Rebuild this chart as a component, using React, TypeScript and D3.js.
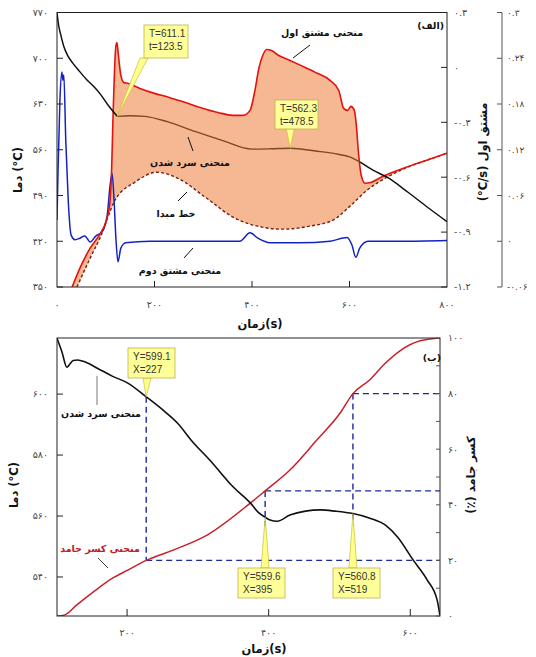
import React from "react";
import * as d3 from "d3";

// ---------- top chart (الف) data ----------
const coolTime = [0, 3, 8, 14, 22, 32, 45, 60, 75, 90, 105, 123.5, 150, 180, 226, 283, 340, 400, 440, 478.5, 530, 570, 600, 622, 650, 677, 720, 760, 800];
const coolTemp = [770, 752, 735, 718, 704, 693, 681, 668, 657, 644, 628, 611.1, 612, 611, 603, 588, 574, 561, 561.5, 562.3, 558, 554, 549, 541, 528, 518, 495, 472, 450];
const coolBrownFrom = 123.5;
const coolBrownTo = 622;

const d1Time = [31, 47, 68, 88, 100, 108, 112, 115, 118, 121, 123, 126, 131, 137, 145, 170, 200, 230, 262, 300, 330, 360, 382, 396, 406, 414, 422, 430, 440, 455, 478, 500, 530, 560, 578, 588, 596, 603, 610, 614, 618, 624, 632, 645, 665, 700, 740, 770, 800];
const d1Val = [-1.2, -1.097, -0.988, -0.911, -0.846, -0.753, -0.562, -0.262, -0.016, 0.12, 0.136, 0.065, -0.044, -0.082, -0.087, -0.115, -0.142, -0.164, -0.191, -0.224, -0.246, -0.262, -0.262, -0.235, -0.126, -0.006, 0.065, 0.098, 0.093, 0.065, 0.038, 0.011, -0.027, -0.071, -0.126, -0.224, -0.235, -0.213, -0.235, -0.317, -0.453, -0.589, -0.633, -0.627, -0.6, -0.562, -0.524, -0.497, -0.469];

const baseTime = [41, 68, 88, 119, 160, 205, 248, 304, 365, 421, 464, 519, 566, 601, 636, 677, 724, 771, 800];
const baseVal = [-1.2, -1.042, -0.933, -0.726, -0.627, -0.573, -0.606, -0.709, -0.824, -0.873, -0.884, -0.867, -0.835, -0.758, -0.671, -0.6, -0.54, -0.496, -0.469];

const d2Time = [0, 2, 6, 10, 12, 14, 18, 23, 29, 37, 47, 57, 68, 80, 92, 103, 109, 113, 117, 121, 125, 131, 141, 191, 293, 375, 396, 412, 437, 498, 560, 595, 605, 613, 621, 638, 704, 800];
const d2Val = [0.028, 0.089, 0.185, 0.222, 0.211, 0.218, 0.132, 0.054, 0.008, 0.002, 0.004, 0.007, -0.001, 0.007, 0.012, 0.034, 0.074, 0.089, 0.054, 0.002, -0.027, -0.009, -0.002, 0, 0, 0, 0.011, 0.004, -0.002, -0.002, 0, 0.005, -0.005, -0.021, -0.009, 0, 0, 0.001];

const topXTicks = [0, 200, 400, 600, 800];
const topTempTicks = [350, 420, 490, 560, 630, 700, 770];
const topD1Ticks = [0.3, 0, -0.3, -0.6, -0.9, -1.2];
const topD2Ticks = [0.3, 0.24, 0.18, 0.12, 0.06, 0, -0.06];

const topMarks = [
  { t: 123.5, T: 611.1 },
  { t: 478.5, T: 562.3 },
];

// ---------- bottom chart (ب) data ----------
const botTime = [101, 108, 115, 119, 124, 130, 141, 158, 179, 201, 227, 254, 271, 293, 317, 350, 374, 385, 395, 402, 412, 430, 452, 473, 494, 519, 543, 565, 582, 604, 624, 638, 642];
const botTemp = [618.3, 613.8, 608.8, 609.8, 611, 611.2, 610.5, 608.5, 605.9, 603.6, 599.1, 594.1, 590.5, 584.2, 578.3, 569.5, 564.3, 561.3, 559.6, 558.7, 558.3, 560.3, 561.6, 562, 561.6, 560.8, 559.3, 557, 553.1, 545.6, 539, 532.4, 527.2];

const fsTime = [101, 112, 129, 152, 180, 201, 227, 265, 313, 374, 395, 430, 468, 501, 519, 543, 565, 586, 614, 642];
const fsVal = [0, 0.4, 4, 8.6, 13.7, 16.5, 20, 23.7, 29.1, 40.6, 45, 52.5, 63.3, 73, 80, 85, 91, 95.5, 99, 100];

const botMarks = [
  { X: 227, Y: 599.1, fs: 20 },
  { X: 395, Y: 559.6, fs: 45 },
  { X: 519, Y: 560.8, fs: 80 },
];

const botXTicks = [200, 400, 600];
const botTempTicks = [540, 560, 580, 600];
const botFsTicks = [0, 20, 40, 60, 80, 100];
const botFsMinor = [0, 10, 20, 30, 40, 50, 60, 70, 80, 90, 100];

// ---------- helpers ----------
const toFa = (s: string) => s.replace(/[0-9]/g, (d) => "۰۱۲۳۴۵۶۷۸۹"[Number(d)]);
const zip = (a: number[], b: number[]) => a.map((v, i) => [v, b[i]] as [number, number]);

const FA = "'DejaVu Sans', sans-serif";
const LAT = "'Liberation Sans', Arial, sans-serif";
const tickColor = "#444";

function Callout({ ax, ay, bx, by, w, h, px, lines }: { ax: number; ay: number; bx: number; by: number; w: number; h: number; px: number; lines: string[] }) {
  const edgeY = ay > by ? by + h : by;
  return (
    <g>
      <polygon points={`${px - 4},${edgeY} ${px + 4},${edgeY} ${ax},${ay}`} fill="#ffff8c" stroke="#c9be3a" strokeWidth={0.7} />
      <rect x={bx} y={by} width={w} height={h} fill="#ffff99" stroke="#bdb24a" strokeWidth={0.8} />
      {lines.map((l, i) => (
        <text key={i} x={bx + 5} y={by + 12 + i * 13} fontSize={10} fontFamily={LAT} fill="#333">{l}</text>
      ))}
    </g>
  );
}

export default function App() {
  // ---- top scales
  const L1 = 57, R1 = 447, T1 = 12.5, B1 = 287;
  const tx = d3.scaleLinear().domain([0, 800]).range([L1, R1]);
  const tT = d3.scaleLinear().domain([350, 770]).range([B1, T1]);
  const tD1 = d3.scaleLinear().domain([-1.2, 0.3]).range([B1, T1]);
  const tD2 = d3.scaleLinear().domain([-0.06, 0.3]).range([B1, T1]);
  const outerX = 502;

  const pxLine = d3.line<[number, number]>().x((d) => d[0]).y((d) => d[1]).curve(d3.curveMonotoneX);

  const cool = zip(coolTime, coolTemp);
  const coolPx = (arr: [number, number][]) => arr.map((d) => [tx(d[0]), tT(d[1])] as [number, number]);
  const coolA = coolPx(cool.filter((d) => d[0] <= coolBrownFrom));
  const coolB = coolPx(cool.filter((d) => d[0] >= coolBrownFrom && d[0] <= coolBrownTo));
  const coolC = coolPx(cool.filter((d) => d[0] >= coolBrownTo));

  const redPx = zip(d1Time, d1Val).map((d) => [tx(d[0]), tD1(d[1])] as [number, number]);
  const basePx = zip(baseTime, baseVal).map((d) => [tx(d[0]), tD1(d[1])] as [number, number]);
  const bluePx = zip(d2Time, d2Val).map((d) => [tx(d[0]), tD2(d[1])] as [number, number]);
  const redPath = pxLine(redPx) || "";
  const baseRevPath = pxLine(basePx.slice().reverse()) || "";
  const fillPath = redPath + "L" + baseRevPath.slice(1) + "Z";

  // ---- bottom scales
  const L2 = 57, R2 = 440, T2 = 338, B2 = 616;
  const bx = d3.scaleLinear().domain([101, 642]).range([L2, R2]);
  const bT = d3.scaleLinear().domain([527.2, 618.4]).range([B2, T2]);
  const bF = d3.scaleLinear().domain([0, 100]).range([B2, T2]);
  const botCool = zip(botTime, botTemp).map((d) => [bx(d[0]), bT(d[1])] as [number, number]);
  const botFs = zip(fsTime, fsVal).map((d) => [bx(d[0]), bF(d[1])] as [number, number]);

  const boxW = 47, boxH = 30;
  const botBoxes = [
    { bx: 128, by: 348, px: 147 },
    { bx: 238, by: 568, px: 0 },
    { bx: 333, by: 568, px: 0 },
  ];

  const titleStyle = { fontFamily: FA, fontWeight: 700 as const, fontSize: 11.5, fill: "#111" };
  const labStyle = { fontFamily: FA, fontWeight: 700 as const, fontSize: 9.5, fill: "#111" };

  return (
    <svg width={536} height={657} style={{ position: "absolute", left: 0, top: 0, background: "#fff" }}>
      <defs>
        <clipPath id="clipTop"><rect x={L1} y={T1} width={R1 - L1} height={B1 - T1} /></clipPath>
        <clipPath id="clipBot"><rect x={L2} y={T2} width={R2 - L2} height={B2 - T2} /></clipPath>
      </defs>

      {/* ================= TOP CHART ================= */}
      <g clipPath="url(#clipTop)">
        <path d={fillPath} fill="#f6b892" stroke="none" />
        <path d={pxLine(basePx) || ""} fill="none" stroke="#7a1e12" strokeWidth={1.4} strokeDasharray="3,2.2" />
        <path d={pxLine(bluePx) || ""} fill="none" stroke="#1422c4" strokeWidth={1.5} />
        <path d={redPath} fill="none" stroke="#e3120f" strokeWidth={1.6} />
        <path d={pxLine(coolA) || ""} fill="none" stroke="#111" strokeWidth={1.5} />
        <path d={pxLine(coolB) || ""} fill="none" stroke="#7b4a1c" strokeWidth={1.4} />
        <path d={pxLine(coolC) || ""} fill="none" stroke="#111" strokeWidth={1.5} />
      </g>
      <rect x={L1} y={T1} width={R1 - L1} height={B1 - T1} fill="none" stroke="#222" strokeWidth={1} />

      {/* left temp axis */}
      {topTempTicks.map((v) => (
        <g key={"tt" + v}>
          <line x1={L1} x2={L1 + 6} y1={tT(v)} y2={tT(v)} stroke="#222" />
          <text x={48} y={tT(v)} dy="0.35em" textAnchor="end" fontSize={9.5} fontFamily={FA} fill={tickColor}>{toFa(String(v))}</text>
        </g>
      ))}
      {/* right first-derivative axis */}
      {topD1Ticks.map((v) => (
        <g key={"d1" + v}>
          <line x1={R1 - 6} x2={R1} y1={tD1(v)} y2={tD1(v)} stroke="#222" />
          <text x={454} y={tD1(v)} dy="0.35em" textAnchor="start" fontSize={9.5} fontFamily={FA} fill={tickColor}>{toFa(String(v))}</text>
        </g>
      ))}
      {/* outer second-derivative axis */}
      <line x1={outerX} x2={outerX} y1={T1} y2={B1} stroke="#555" />
      {topD2Ticks.map((v) => (
        <g key={"d2" + v}>
          <line x1={outerX - 5} x2={outerX} y1={tD2(v)} y2={tD2(v)} stroke="#555" />
          <text x={507} y={tD2(v)} dy="0.35em" textAnchor="start" fontSize={9} fontFamily={FA} fill={tickColor}>{toFa(String(v))}</text>
        </g>
      ))}
      {/* x axis */}
      {topXTicks.map((v) => (
        <g key={"tx" + v}>
          {v > 0 && v < 800 && <line x1={tx(v)} x2={tx(v)} y1={B1} y2={B1 - 6} stroke="#222" />}
          <text x={tx(v)} y={308} textAnchor="middle" fontSize={9.5} fontFamily={FA} fill={tickColor}>{toFa(String(v))}</text>
        </g>
      ))}
      <text x={260} y={328} textAnchor="middle" {...titleStyle}>زمان(s)</text>
      <text transform="translate(22,170) rotate(-90)" textAnchor="middle" {...titleStyle}>دما (°C)</text>
      <text transform="translate(487,152) rotate(-90)" textAnchor="middle" {...titleStyle}>(°C/s) مشتق اول</text>

      {/* top annotations */}
      <Callout ax={tx(topMarks[0].t)} ay={tT(topMarks[0].T)} bx={144} by={25} w={44} h={33} px={144} lines={["T=611.1", "t=123.5"]} />
      <Callout ax={tx(topMarks[1].t)} ay={tT(topMarks[1].T)} bx={275} by={100} w={43} h={29} px={tx(topMarks[1].t)} lines={["T=562.3", "t=478.5"]} />

      <text x={322} y={36} textAnchor="middle" {...labStyle}>منحنی مشتق اول</text>
      <line x1={310} y1={45} x2={293} y2={58} stroke="#111" />
      <text x={190} y={166} textAnchor="middle" {...labStyle}>منحنی سرد شدن</text>
      <line x1={188} y1={137} x2={193} y2={151} stroke="#111" />
      <text x={176} y={217} textAnchor="middle" {...labStyle}>خط مبدا</text>
      <line x1={187} y1={192} x2={178} y2={201} stroke="#111" />
      <text x={180} y={274} textAnchor="middle" {...labStyle}>منحنی مشتق دوم</text>
      <line x1={193} y1={248} x2={184} y2={258} stroke="#111" />
      <text x={444} y={29} textAnchor="end" {...labStyle}>(الف)</text>

      {/* ================= BOTTOM CHART ================= */}
      <g clipPath="url(#clipBot)">
        {botMarks.map((m, i) => {
          const xm = bx(m.X);
          const yf = bF(m.fs);
          const yt = bT(m.Y);
          const b = botBoxes[i];
          const yTop = Math.min(yf, yt);
          const yBot = b.by > yTop ? Math.max(yf, yt, b.by) : Math.max(yf, yt);
          return (
            <g key={"dm" + i}>
              <line x1={xm} x2={xm} y1={yTop} y2={yBot} stroke="#1c2a9c" strokeWidth={1.4} strokeDasharray="6,4" />
              <line x1={xm} x2={R2} y1={yf} y2={yf} stroke="#1c2a9c" strokeWidth={1.4} strokeDasharray="6,4" />
            </g>
          );
        })}
        <path d={pxLine(botFs) || ""} fill="none" stroke="#c8202a" strokeWidth={1.5} />
        <path d={pxLine(botCool) || ""} fill="none" stroke="#111" strokeWidth={1.6} />
      </g>
      <rect x={L2} y={T2} width={R2 - L2} height={B2 - T2} fill="none" stroke="#222" strokeWidth={1} />

      {botTempTicks.map((v) => (
        <g key={"bt" + v}>
          <line x1={L2} x2={L2 + 6} y1={bT(v)} y2={bT(v)} stroke="#222" />
          <text x={48} y={bT(v)} dy="0.35em" textAnchor="end" fontSize={9.5} fontFamily={FA} fill={tickColor}>{toFa(String(v))}</text>
        </g>
      ))}
      {botFsMinor.map((v) => (
        <line key={"bm" + v} x1={R2 - 4} x2={R2} y1={bF(v)} y2={bF(v)} stroke="#555" />
      ))}
      {botFsTicks.map((v) => (
        <text key={"bf" + v} x={448} y={bF(v)} dy="0.35em" textAnchor="start" fontSize={9.5} fontFamily={FA} fill={tickColor}>{toFa(String(v))}</text>
      ))}
      {botXTicks.map((v) => (
        <g key={"bx" + v}>
          <line x1={bx(v)} x2={bx(v)} y1={B2} y2={B2 - 7} stroke="#222" />
          <text x={bx(v)} y={636} textAnchor="middle" fontSize={9.5} fontFamily={FA} fill={tickColor}>{toFa(String(v))}</text>
        </g>
      ))}
      <text x={264} y={653} textAnchor="middle" {...titleStyle}>زمان(s)</text>
      <text transform="translate(18,485) rotate(-90)" textAnchor="middle" {...titleStyle}>دما (°C)</text>
      <text transform="translate(475,475) rotate(-90)" textAnchor="middle" {...titleStyle}>(٪) کسر جامد</text>

      {botMarks.map((m, i) => {
        const b = botBoxes[i];
        const ax = bx(m.X);
        return (
          <Callout key={"bc" + i} ax={ax} ay={bT(m.Y)} bx={b.bx} by={b.by} w={boxW} h={boxH} px={b.px || ax}
            lines={["Y=" + m.Y.toFixed(1), "X=" + m.X]} />
        );
      })}

      <text x={101} y={417} textAnchor="middle" {...labStyle}>منحنی سرد شدن</text>
      <line x1={97} y1={376} x2={97} y2={405} stroke="#777" />
      <text x={100} y={552} textAnchor="middle" {...labStyle} fill="#b8222a">منحنی کسر جامد</text>
      <line x1={98} y1={558} x2={108} y2={568} stroke="#444" />
      <text x={441} y={361} textAnchor="end" {...labStyle}>(ب)</text>
    </svg>
  );
}
